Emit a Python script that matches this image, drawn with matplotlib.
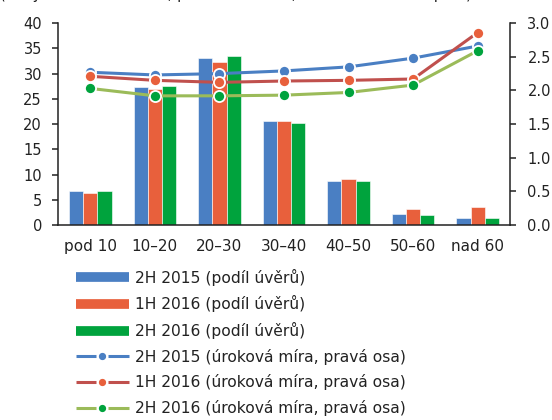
import matplotlib.pyplot as plt
import numpy as np
from matplotlib.lines import Line2D
from matplotlib.legend_handler import HandlerBase

plt.rcParams['font.family'] = ['DejaVu Sans']
plt.rcParams['font.size'] = 10

categories = ['pod 10', '10–20', '20–30', '30–40', '40–50', '50–60', 'nad 60']

# podíl úvěrů (levá osa, %)
share_2h15 = [6.8, 27.4, 33.1, 20.6, 8.8, 2.2, 1.4]
share_1h16 = [6.3, 26.9, 32.2, 20.6, 9.2, 3.1, 3.5]
share_2h16 = [6.8, 27.6, 33.4, 20.3, 8.7, 2.1, 1.4]

# úroková míra (pravá osa, %)
rate_2h15 = [2.27, 2.23, 2.25, 2.29, 2.35, 2.48, 2.66]
rate_1h16 = [2.21, 2.15, 2.12, 2.14, 2.15, 2.17, 2.86]
rate_2h16 = [2.03, 1.92, 1.92, 1.93, 1.97, 2.08, 2.59]

c_blue = '#4a7fc3'
c_red = '#e8603c'
c_green = '#00a33d'
l_red = '#c0504d'
l_green = '#9bbb59'
txt = '#222222'

fig = plt.figure(figsize=(5.52, 4.2), dpi=100)
ax = fig.add_axes([0.105, 0.464, 0.819, 0.481])
ax2 = ax.twinx()

x = np.arange(len(categories))
w = 0.22
ax.bar(x - w, share_2h15, w, color=c_blue, edgecolor='white', linewidth=0.4)
ax.bar(x, share_1h16, w, color=c_red, edgecolor='white', linewidth=0.4)
ax.bar(x + w, share_2h16, w, color=c_green, edgecolor='white', linewidth=0.4)

mk = dict(marker='o', markersize=8, markeredgecolor='white', markeredgewidth=1.3)
ax2.plot(x, rate_2h15, color=c_blue, lw=2.2, markerfacecolor=c_blue, **mk)
ax2.plot(x, rate_1h16, color=l_red, lw=2.2, markerfacecolor=c_red, **mk)
ax2.plot(x, rate_2h16, color=l_green, lw=2.2, markerfacecolor=c_green, **mk)

ax.set_xlim(-0.5, len(categories) - 0.5)
ax.set_ylim(0, 40)
ax.set_yticks(range(0, 41, 5))
ax2.set_ylim(0, 3)
ax2.set_yticks(np.arange(0, 3.01, 0.5))
ax2.set_yticklabels([f'{v:.1f}' for v in np.arange(0, 3.01, 0.5)])
ax.set_xticks(x)
ax.set_xticklabels(categories)

for a in (ax, ax2):
    a.spines['top'].set_visible(False)
    for s in a.spines.values():
        s.set_color('#222222')
        s.set_linewidth(1.1)
ax.spines['right'].set_visible(False)
ax2.spines['left'].set_visible(False)
ax2.spines['bottom'].set_visible(False)
ax.tick_params(axis='x', length=0, pad=10, labelsize=11, colors=txt)
ax.tick_params(axis='y', length=4, width=1.1, pad=7.5, labelsize=10.5, colors=txt)
ax2.tick_params(axis='y', length=4, width=1.1, pad=8.5, labelsize=10.5, colors=txt)


# čára - mezera - bod - mezera - čára, jako v excelové legendě
class LineDotHandler(HandlerBase):
    def create_artists(self, legend, orig_handle, xdescent, ydescent,
                       width, height, fontsize, trans):
        x0 = -xdescent
        y = height / 2 - ydescent
        col = orig_handle.get_color()
        dcol = orig_handle.get_markerfacecolor()
        left = Line2D([x0, x0 + 0.39 * width], [y, y], color=col, lw=2.2,
                      solid_capstyle='butt')
        right = Line2D([x0 + 0.61 * width, x0 + width], [y, y], color=col, lw=2.2,
                       solid_capstyle='butt')
        dot = Line2D([x0 + width / 2], [y], ls='none', marker='o', markersize=4.2,
                     markerfacecolor=dcol, markeredgecolor=dcol)
        for a in (left, right, dot):
            a.set_transform(trans)
        return [left, right, dot]


line_handles = [
    Line2D([], [], color=c_blue, markerfacecolor=c_blue),
    Line2D([], [], color=l_red, markerfacecolor=c_red),
    Line2D([], [], color=l_green, markerfacecolor=c_green),
]
handles = [
    Line2D([], [], color=c_blue, lw=7, solid_capstyle='butt'),
    Line2D([], [], color=c_red, lw=7, solid_capstyle='butt'),
    Line2D([], [], color=c_green, lw=7, solid_capstyle='butt'),
] + line_handles
labels = [
    '2H 2015 (podíl úvěrů)',
    '1H 2016 (podíl úvěrů)',
    '2H 2016 (podíl úvěrů)',
    '2H 2015 (úroková míra, pravá osa)',
    '1H 2016 (úroková míra, pravá osa)',
    '2H 2016 (úroková míra, pravá osa)',
]
hmap = {h: LineDotHandler() for h in line_handles}
leg = fig.legend(handles, labels, loc='upper left', bbox_to_anchor=(0.137, 0.36),
                 frameon=False, handlelength=3.4, handletextpad=0.4,
                 labelspacing=0.62, fontsize=11.2, labelcolor=txt, borderaxespad=0,
                 borderpad=0, handler_map=hmap)

fig.text(0.0, 1 + 1.5 / 420, '(x: výše úvěru v tis. Kč; podíl úvěrů v %, úroková míra v % p. a.)',
         fontsize=10.5, color=txt, va='baseline', ha='left')

fig.savefig('out.png', dpi=100)
